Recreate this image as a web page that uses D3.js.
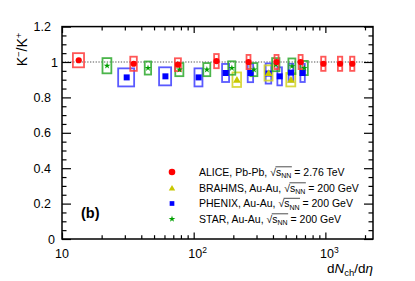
<!DOCTYPE html>
<html>
<head>
<meta charset="utf-8">
<script src="https://cdn.jsdelivr.net/npm/d3@7"></script>
<style>
  body { margin: 0; background: #fff; }
  svg { font-family: "Liberation Sans", Arial, Helvetica, sans-serif; }
</style>
</head>
<body>
<div id="main"></div>
<script>
// ALICE Pb-Pb 2.76 TeV
var aliceDN = [13.4, 35, 76, 149, 261, 426, 649, 966, 1294, 1601];
var aliceDNerr = [1.3, 2, 4, 6, 9, 15, 23, 37, 49, 60];
var aliceRatio = [1.01, 0.99, 0.985, 1.005, 1.0, 1.0, 1.0, 0.99, 0.99, 0.99];
var aliceSys = [0.04, 0.04, 0.036, 0.04, 0.04, 0.04, 0.04, 0.04, 0.04, 0.04];

// BRAHMS Au-Au 200 GeV
var brahmsDN = [213, 371, 548];
var brahmsDNerr = [16, 26, 43];
var brahmsRatio = [0.90, 0.938, 0.90];
var brahmsSys = [0.041, 0.043, 0.038];

// PHENIX Au-Au 200 GeV
var phenixDN = [31, 61, 109, 175, 270, 370, 450, 548, 672];
var phenixDNerr = [4.3, 6.4, 7.6, 10.7, 12.8, 18, 18, 22, 26];
var phenixRatio = [0.913, 0.919, 0.913, 0.938, 0.938, 0.935, 0.919, 0.94, 0.938];
var phenixSys = [0.051, 0.051, 0.051, 0.051, 0.052, 0.057, 0.051, 0.05, 0.051];

// STAR Au-Au 200 GeV
var starDN = [22, 45, 78, 126, 195, 287, 421, 558, 691];
var starDNerr = [1.7, 2.5, 5.5, 7.7, 12, 17.6, 27, 34, 45];
var starRatio = [0.979, 0.966, 0.957, 0.957, 0.966, 0.957, 0.985, 0.976, 0.966];
var starSys = [0.043, 0.037, 0.037, 0.037, 0.038, 0.037, 0.037, 0.044, 0.04];

var yTicks = [0, 0.2, 0.4, 0.6, 0.8, 1, 1.2];
var yTickLabels = ["0", "0.2", "0.4", "0.6", "0.8", "1", "1.2"];
var xTicks = [10, 100, 1000];
var xTickBase = ["10", "10", "10"];
var xTickExp = ["", "2", "3"];

var legendLabels = [
    { pre: "ALICE, Pb-Pb, ", post: " = 2.76 TeV" },
    { pre: "BRAHMS, Au-Au, ", post: " = 200 GeV" },
    { pre: "PHENIX, Au-Au, ", post: " = 200 GeV" },
    { pre: "STAR, Au-Au, ", post: " = 200 GeV" }
];

var W = 415, H = 281;
var margin = { top: 26.6, right: 42, bottom: 42, left: 62 },
    width = W - margin.left - margin.right,
    height = H - margin.top - margin.bottom;

var xScale = d3.scaleLog().domain([10, 2300]).range([0, width]);
var yScale = d3.scaleLinear().domain([0, 1.2]).range([height, 0]);

var svg = d3.select("#main").append("svg")
    .attr("width", W)
    .attr("height", H);

var g = svg.append("g")
    .attr("transform", "translate(" + margin.left + "," + margin.top + ")");

// dotted line at 1
g.append("line")
    .attr("x1", 0).attr("x2", width)
    .attr("y1", yScale(1)).attr("y2", yScale(1))
    .attr("stroke", "#555")
    .attr("stroke-width", 1.2)
    .attr("stroke-dasharray", "1.3,1.5");

function makeSet(dn, dnErr, ratio, sys) {
    return dn.map(function (d, i) {
        return { x: d, ex: dnErr[i], y: ratio[i], ey: sys[i] };
    });
}

var sets = [
    { name: "phenix", data: makeSet(phenixDN, phenixDNerr, phenixRatio, phenixSys), color: "#0000ff", box: "#3d3dff", symbol: d3.symbolSquare, size: 36 },
    { name: "brahms", data: makeSet(brahmsDN, brahmsDNerr, brahmsRatio, brahmsSys), color: "#c8c800", box: "#d2d21e", symbol: d3.symbolTriangle, size: 26 },
    { name: "star", data: makeSet(starDN, starDNerr, starRatio, starSys), color: "#00a000", box: "#2ca82c", symbol: d3.symbolStar, size: 14 },
    { name: "alice", data: makeSet(aliceDN, aliceDNerr, aliceRatio, aliceSys), color: "#ff0000", box: "#ff3a3a", symbol: d3.symbolCircle, size: 30 }
];

sets.forEach(function (s) {
    g.append("g").selectAll("rect")
        .data(s.data)
        .enter().append("rect")
        .attr("x", function (d) { return xScale(d.x - d.ex); })
        .attr("width", function (d) { return xScale(d.x + d.ex) - xScale(d.x - d.ex); })
        .attr("y", function (d) { return yScale(d.y + d.ey); })
        .attr("height", function (d) { return yScale(d.y - d.ey) - yScale(d.y + d.ey); })
        .attr("fill", "none")
        .attr("stroke", s.box)
        .attr("stroke-opacity", 0.85)
        .attr("stroke-width", 1.8);
});

sets.forEach(function (s) {
    g.append("g").selectAll("path")
        .data(s.data)
        .enter().append("path")
        .attr("d", d3.symbol().type(s.symbol).size(s.size))
        .attr("transform", function (d) {
            var dy = s.symbol === d3.symbolTriangle ? 0.8 : 0;
            return "translate(" + xScale(d.x) + "," + (yScale(d.y) + dy) + ")";
        })
        .attr("fill", s.color);
});

// frame
g.append("rect")
    .attr("width", width).attr("height", height)
    .attr("fill", "none").attr("stroke", "#000").attr("stroke-width", 1.5);

// y axes (left labelled, right ticks only)
var yMinor = d3.range(0, 1.2001, 0.05).filter(function (v) { return Math.abs(v * 5 - Math.round(v * 5)) > 1e-6; });

var yAxisEl = g.append("g")
    .call(d3.axisLeft(yScale).tickValues(yTicks).tickSize(-9).tickPadding(11)
        .tickFormat(function (d, i) { return yTickLabels[i]; }));
g.append("g")
    .call(d3.axisLeft(yScale).tickValues(yMinor).tickSize(-4.5).tickFormat(""));
g.append("g").attr("transform", "translate(" + width + ",0)")
    .call(d3.axisRight(yScale).tickValues(yTicks).tickSize(-9).tickFormat(""));
g.append("g").attr("transform", "translate(" + width + ",0)")
    .call(d3.axisRight(yScale).tickValues(yMinor).tickSize(-4.5).tickFormat(""));

yAxisEl.selectAll("text")
    .attr("font-size", 12.5)
    .attr("fill", "#000")
    .attr("x", function (d) { return d === 1 ? -4 : (d === 0 ? -7 : -11); });

// x axes
var xMinor = [];
[10, 100, 1000].forEach(function (dec) {
    for (var k = 2; k <= 9; k++) { if (dec * k <= 2300) xMinor.push(dec * k); }
});

var xAxisEl = g.append("g").attr("transform", "translate(0," + height + ")")
    .call(d3.axisBottom(xScale).tickValues(xTicks).tickSize(-6.5).tickPadding(10).tickFormat(""));
g.append("g").attr("transform", "translate(0," + height + ")")
    .call(d3.axisBottom(xScale).tickValues(xMinor).tickSize(-3.8).tickFormat(""));
g.append("g")
    .call(d3.axisTop(xScale).tickValues(xTicks).tickSize(-6.5).tickFormat(""));
g.append("g")
    .call(d3.axisTop(xScale).tickValues(xMinor).tickSize(-3.8).tickFormat(""));

g.selectAll(".domain").remove();
g.selectAll(".tick line").attr("stroke", "#000").attr("stroke-width", 1.2);

var xLab = g.append("g").attr("font-size", 12.5);
xTicks.forEach(function (v, i) {
    var t = xLab.append("text")
        .attr("x", xScale(v) + (xTickExp[i] ? 4 : 0))
        .attr("y", height + 19)
        .attr("text-anchor", "middle");
    t.append("tspan").text(xTickBase[i]);
    if (xTickExp[i]) {
        t.append("tspan").attr("font-size", 8.5).attr("dy", -5).text(xTickExp[i]);
    }
});

// axis titles
var xt = svg.append("text")
    .attr("x", margin.left + width)
    .attr("y", 273)
    .attr("text-anchor", "end")
    .attr("font-size", 13.5);
xt.append("tspan").text("d");
xt.append("tspan").attr("font-style", "italic").text("N");
xt.append("tspan").attr("font-size", 9.5).attr("dy", 2.5).text("ch");
xt.append("tspan").attr("dy", -2.5).text("/d");
xt.append("tspan").attr("font-style", "italic").text("η");

var yt = svg.append("text")
    .attr("transform", "translate(27," + (margin.top + 6) + ") rotate(-90)")
    .attr("text-anchor", "end")
    .attr("font-size", 14);
yt.append("tspan").text("K");
yt.append("tspan").attr("font-size", 9.5).attr("dy", -5).text("−");
yt.append("tspan").attr("dy", 5).text("/K");
yt.append("tspan").attr("font-size", 9.5).attr("dy", -5).text("+");

// panel tag
svg.append("text")
    .attr("x", 81).attr("y", 218)
    .attr("font-size", 14.5).attr("font-weight", "bold")
    .text("(b)");

// legend
var legendY = [172, 188, 203.5, 219];
var legendOrder = ["alice", "brahms", "phenix", "star"];
var legendSize = { alice: 34, brahms: 18, phenix: 22, star: 14 };
var leg = svg.append("g").attr("font-size", 10.5);
legendOrder.forEach(function (name, i) {
    var s = sets.filter(function (d) { return d.name === name; })[0];
    leg.append("path")
        .attr("d", d3.symbol().type(s.symbol).size(legendSize[name]))
        .attr("transform", "translate(172," + (legendY[i] + (name === "brahms" ? 0.6 : 0)) + ")")
        .attr("fill", s.color);
    var t = leg.append("text").attr("x", 199).attr("y", legendY[i] + 3.8);
    t.append("tspan").text(legendLabels[i].pre);
    t.append("tspan").text("√");
    t.append("tspan").text("s");
    t.append("tspan").attr("font-size", 7).attr("dy", 2.5).text("NN");
    t.append("tspan").attr("dy", -2.5).text(legendLabels[i].post);
    // overline of the radical
    var n0 = legendLabels[i].pre.length + 1;
    var node = t.node();
    var a = node.getStartPositionOfChar(n0).x;
    var b = node.getEndPositionOfChar(n0 + 2).x;
    leg.append("line")
        .attr("x1", a - 0.5).attr("x2", b + 0.5)
        .attr("y1", legendY[i] - 5.2).attr("y2", legendY[i] - 5.2)
        .attr("stroke", "#000").attr("stroke-width", 0.7);
});
</script>
</body>
</html>
